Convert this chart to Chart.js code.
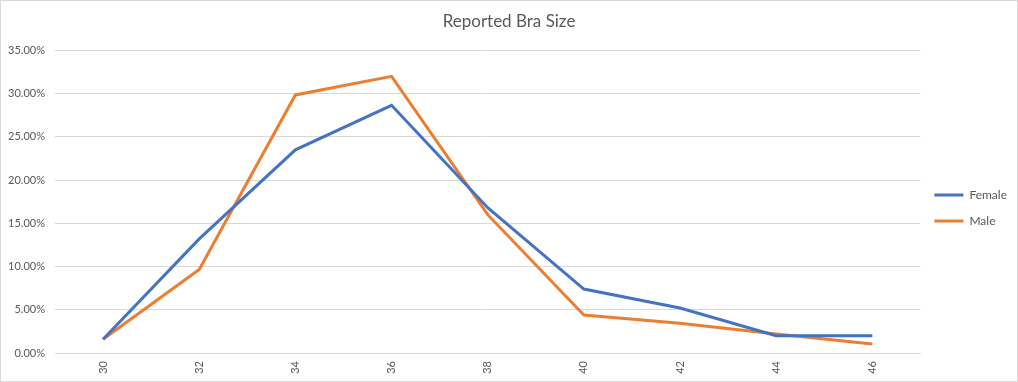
<!DOCTYPE html>
<html lang="en">
<head>
    <meta charset="UTF-8">
    <title>Reported Bra Size</title>
    <script src="https://cdn.jsdelivr.net/npm/chart.js"></script>
    <style>
        html, body {
            margin: 0;
            padding: 0;
            background: #fff;
        }

        .frame {
            width: 1018px;
            height: 382px;
            box-sizing: border-box;
            border: 1px solid #d9d9d9;
        }

        canvas {
            display: block;
        }
    </style>
</head>
<body>
    <div class="frame">
        <canvas id="braChart" width="1016" height="380"></canvas>
    </div>

    <script>
        // band sizes
        const sizes = ['30', '32', '34', '36', '38', '40', '42', '44', '46'];
        // share of answers (%)
        const female = [1.6, 13.2, 23.5, 28.65, 16.8, 7.4, 5.2, 2.0, 2.0];
        const male = [1.6, 9.65, 29.85, 32.0, 16.0, 4.4, 3.45, 2.2, 1.05];
        const yTicks = [0, 5, 10, 15, 20, 25, 30, 35];

        const gridColor = '#d9d9d9';
        const textColor = '#595959';
        const fontFamily = 'Lato, "Open Sans", sans-serif';

        const ctx = document.getElementById('braChart').getContext('2d');

        const chart = new Chart(ctx, {
            type: 'line',
            data: {
                labels: sizes,
                datasets: [{
                    label: 'Female',
                    data: female,
                    borderColor: '#4472c4',
                    backgroundColor: '#4472c4',
                    borderWidth: 3,
                    pointRadius: 0,
                    tension: 0,
                    fill: false
                }, {
                    label: 'Male',
                    data: male,
                    borderColor: '#ed7d31',
                    backgroundColor: '#ed7d31',
                    borderWidth: 3,
                    pointRadius: 0,
                    tension: 0,
                    fill: false
                }]
            },
            options: {
                responsive: false,
                animation: false,
                layout: {
                    padding: { left: 0, right: 0, top: 0, bottom: 0 }
                },
                plugins: {
                    title: {
                        display: true,
                        text: 'Reported Bra Size',
                        color: textColor,
                        font: { family: fontFamily, size: 17, weight: 'normal' },
                        padding: { top: 10, bottom: 19 }
                    },
                    legend: {
                        position: 'right',
                        // empty title only pushes the entries down a bit
                        title: {
                            display: true,
                            text: ' ',
                            font: { size: 10 },
                            padding: { top: 11, bottom: 11 }
                        },
                        labels: {
                            color: textColor,
                            font: { family: fontFamily, size: 12 },
                            boxWidth: 29,
                            boxHeight: 3,
                            padding: 14,
                            generateLabels: (c) => Chart.defaults.plugins.legend.labels.generateLabels(c).map(l => ({ ...l, lineWidth: 0 }))
                        }
                    },
                    tooltip: { enabled: false }
                },
                scales: {
                    x: {
                        offset: true,
                        grid: { display: false, drawTicks: false },
                        border: { display: true, color: gridColor, width: 1 },
                        ticks: {
                            color: textColor,
                            font: { family: fontFamily, size: 11 },
                            minRotation: 90,
                            maxRotation: 90,
                            padding: 8
                        },
                        afterFit: (scale) => { scale.height = 28; }
                    },
                    y: {
                        min: 0,
                        max: 35,
                        afterBuildTicks: (scale) => {
                            scale.ticks = yTicks.map(v => ({ value: v }));
                        },
                        grid: { color: gridColor, drawTicks: false },
                        border: { display: false },
                        ticks: {
                            color: textColor,
                            font: { family: fontFamily, size: 11 },
                            padding: 10,
                            callback: (v) => v.toFixed(2) + '%'
                        },
                        afterFit: (scale) => { scale.width = 54; }
                    }
                }
            }
        });
    </script>
</body>
</html>
